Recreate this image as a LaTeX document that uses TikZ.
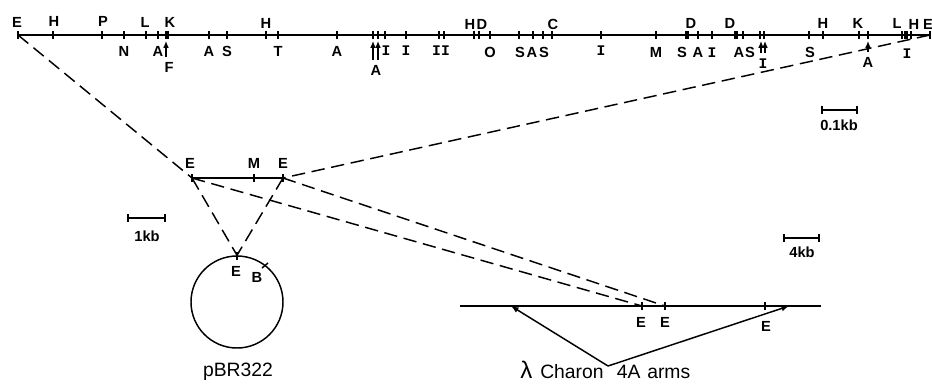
\documentclass[tikz,border=0pt]{standalone}
\usepackage{fontspec}
\setmainfont{Liberation Sans}
\setmonofont{Liberation Mono}
\usetikzlibrary{arrows.meta}

\newcommand{\barI}{{\ttfamily I}}

\begin{document}
\begin{tikzpicture}[
    x=0.75pt, y=-0.75pt,
    site/.style={inner sep=0pt, font=\fontsize{11}{12}\selectfont\bfseries},
    caption/.style={inner sep=0pt, font=\fontsize{14.5}{15}\selectfont},
    dna/.style={line width=1.3pt},
    tick/.style={line width=1.1pt},
    scalebar/.style={{Bar[width=5.5pt]}-{Bar[width=5.5pt]}, line width=1.2pt},
    insert/.style={dashed, dash pattern=on 10pt off 5pt, line width=1.1pt},
    arrow/.style={-{Latex[length=2mm, width=1.6mm]}, line width=1.1pt},
    pointer/.style={-{Latex[length=1.8mm, width=1.5mm]}, line width=0.9pt}
]
    \useasboundingbox (0, 0) rectangle (932, 383);

    % top map
    \coordinate (topl) at (18, 35);
    \coordinate (topr) at (930, 35);
    \draw[dna] (topl) -- (topr);
    \foreach \x in {18, 53, 102, 124, 146, 158, 166, 168, 209, 227, 266, 278, 337, 373, 378, 385, 406, 439, 444, 474, 479, 490, 519, 533, 543, 552, 601, 656, 686, 688, 698, 712, 735, 737, 743, 760, 764, 809, 823, 859, 868, 902, 905, 907, 911, 930}
        \draw[tick] (\x, 31) -- (\x, 39);

    \foreach \x/\y/\t [count=\i] in {
        17/22/E, 54/21/H, 103/21/P, 145/22/L, 170/22/K, 266/23/H,
        470/24/H, 482/24/D, 553/24/C, 691/23/D, 730/23/D, 823/23/H,
        858/23/K, 897/23/L, 914/24/H, 928/24/E,
        124/51/N, 158/51/A, 169/67/F, 209/51/A, 227/51/S, 278/51/T,
        337/51/A, 386/51/\barI, 406/51/\barI, 441/51/\barI\barI, 376/70/A,
        490/52/O, 520/52/S, 532/52/A, 544/52/S, 601/51/\barI,
        656/52/M, 682/52/S, 698/52/A, 712/53/\barI, 739/52/A, 750/52/S,
        763/64/\barI, 810/52/S, 868/62/A, 907/54/\barI}
        \node[site] (s\i) at (\x, \y) {\t};

    \foreach \x/\y in {166/57, 373/60, 378/60, 761/53, 765/53, 868/52}
        \draw[pointer] (\x, \y) -- (\x, 41);

    % scale bars
    \draw[scalebar] (821, 110) -- (858, 110);
    \node[site] (scalea) at (839, 125) {0.1kb};
    \draw[scalebar] (127, 218) -- (166, 218);
    \node[site] (scaleb) at (147, 236) {1kb};
    \draw[scalebar] (783, 238) -- (820, 238);
    \node[site] (scalec) at (802, 252) {4kb};

    % insert
    \coordinate (ml) at (192, 178);
    \coordinate (mm) at (254, 178);
    \coordinate (mr) at (283, 178);
    \draw[dna] (ml) -- (mr);
    \foreach \x in {192, 254, 283}
        \draw[tick] (\x, 174) -- (\x, 182);
    \node[site] (el) at (190, 163) {E};
    \node[site] (em) at (254, 163) {M};
    \node[site] (er) at (283, 163) {E};

    % plasmid
    \node[draw, circle, line width=1.1pt, minimum size=92*0.75pt, inner sep=0pt] (plasmid) at (237, 302) {};
    \draw[tick] (237, 252) -- (237, 260);
    \draw[tick] (262, 268) -- (268, 263);
    \node[site] (pe) at (236, 271) {E};
    \node[site] (pb) at (257, 277) {B};
    \node[caption] (pname) at (238, 372) {pBR322};

    % arms
    \coordinate (al) at (460, 306);
    \coordinate (ar) at (821, 306);
    \coordinate (aa) at (511, 306);
    \coordinate (ab) at (789, 306);
    \coordinate (ae) at (642, 306);
    \coordinate (af) at (665, 306);
    \coordinate (apex) at (608, 366);
    \draw[dna] (al) -- (ar);
    \foreach \x in {642, 665, 765}
        \draw[tick] (\x, 302) -- (\x, 310);
    \node[site] (ea) at (641, 322) {E};
    \node[site] (eb) at (665, 322) {E};
    \node[site] (ec) at (766, 326) {E};
    \draw[arrow] (apex) -- (aa);
    \draw[arrow] (apex) -- (ab);
    \node[caption, anchor=base west] (aname) at (520, 378) {{\fontsize{18}{18}\selectfont λ}\hspace{6pt}Charon\hspace{10pt}4A\hspace{5pt}arms};

    % dashed lines
    \draw[insert] (topl) -- (ml);
    \draw[insert] (topr) -- (mr);
    \draw[insert] (ml) -- (ae);
    \draw[insert] (mr) -- (af);
    \draw[insert] (ml) -- (plasmid.north);
    \draw[insert] (mr) -- (plasmid.north);
\end{tikzpicture}
\end{document}
